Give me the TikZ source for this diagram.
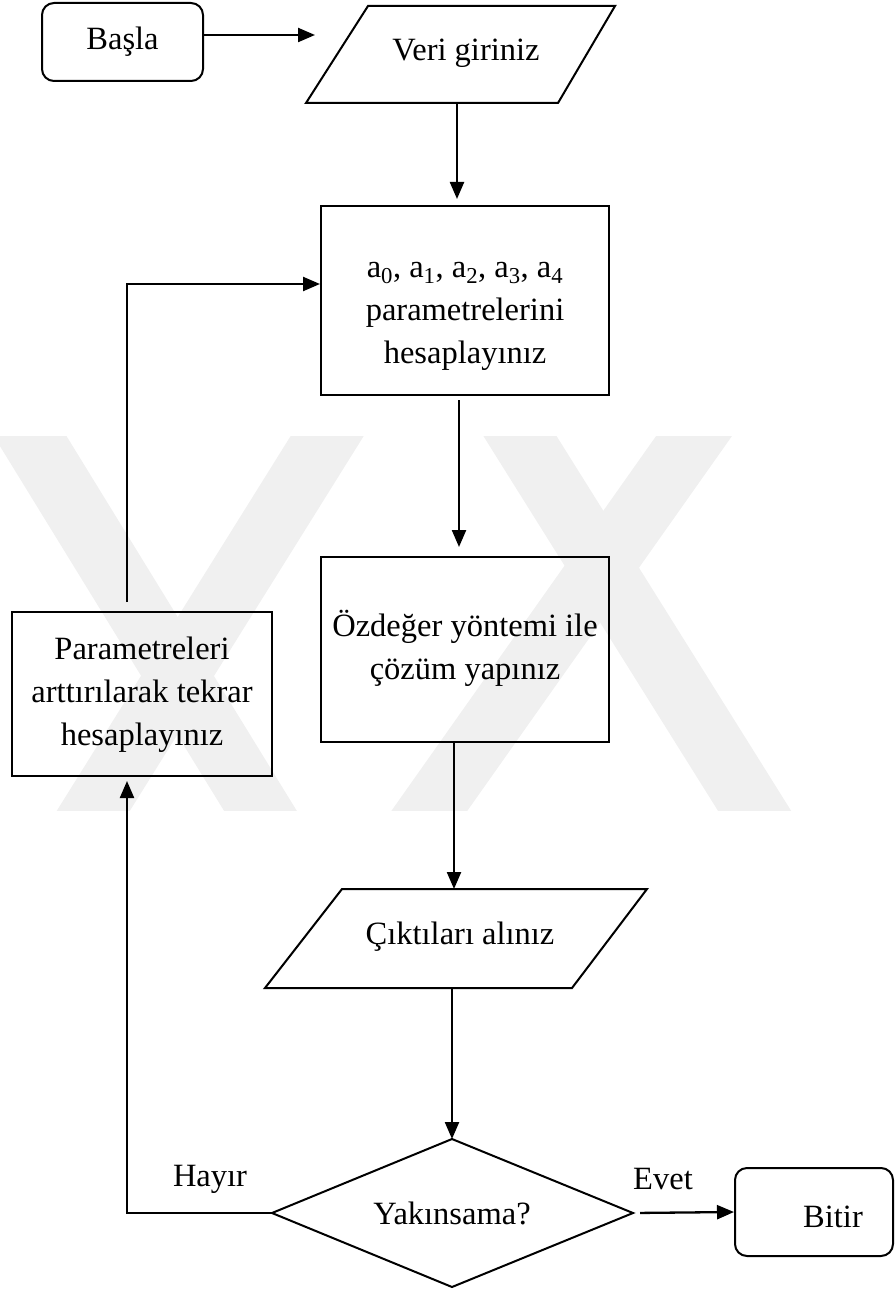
\documentclass[tikz,border=0pt]{standalone}
\usepackage{fontspec}
\setmainfont{Liberation Serif}
\usetikzlibrary{arrows.meta}
\begin{document}
\begin{tikzpicture}[x=1pt,y=-1pt,
  every node/.style={font=\fontsize{32.5}{43}\selectfont, inner sep=0pt},
  fbox/.style={draw, line width=2pt, inner sep=0pt},
  rbox/.style={draw, line width=2pt, inner sep=0pt, rounded corners=12pt},
  outline/.style={draw, line width=2pt, line join=miter},
  arr/.style={line width=2.3pt, -{Triangle[length=17pt,width=14pt]}},
  wm/.style={black!6, line width=62pt}]
\useasboundingbox (0,0) rectangle (895,1289);
% watermark
\begin{scope}
\clip (0,436) rectangle (895,810);
\draw[wm] (-16,361) -- (306,885);
\draw[wm] (374,361) -- (47,885);
\draw[wm] (747,361) -- (377,885);
\draw[wm] (473,361) -- (801,885);
\end{scope}
% Basla
\node[rbox, minimum width=161pt, minimum height=78pt] (basla) at (122.5,42) {Başla};
% Veri giriniz
\coordinate (vtl) at (368,6);
\coordinate (vtr) at (615,6);
\coordinate (vbr) at (558,103);
\coordinate (vbl) at (306,103);
\draw[outline] (vtl) -- (vtr) -- (vbr) -- (vbl) -- cycle;
\node (veri) at (466,53) {Veri giriniz};
\coordinate (veriin) at (315,35);
\coordinate (veribot) at (457,103);
% a0 box
\node[fbox, minimum width=288pt, minimum height=189pt] (a0) at (465,300.5) {};
\node[align=center] (a0txt) at (465,316) {a\textsubscript{0}, a\textsubscript{1}, a\textsubscript{2}, a\textsubscript{3}, a\textsubscript{4}\\parametrelerini\\hesaplayınız};
% Ozdeger box
\node[fbox, minimum width=288pt, minimum height=185pt] (ozd) at (465,649.5) {};
\node[align=center] (ozdtxt) at (465,648) {Özdeğer yöntemi ile\\çözüm yapınız};
% left box
\node[fbox, minimum width=260pt, minimum height=164pt] (param) at (142,694) {};
\node[align=center] (paramtxt) at (142,695) {Parametreleri\\arttırılarak tekrar\\hesaplayınız};
% Ciktilari
\coordinate (ctl) at (342,889);
\coordinate (ctr) at (647,889);
\coordinate (cbr) at (572,988);
\coordinate (cbl) at (265,988);
\draw[outline] (ctl) -- (ctr) -- (cbr) -- (cbl) -- cycle;
\node (cikti) at (460,937) {Çıktıları alınız};
\coordinate (ctop) at (454,889);
\coordinate (cbot) at (452,988);
% diamond
\coordinate (dt) at (452,1139);
\coordinate (dl) at (272,1213);
\coordinate (dr) at (633,1213);
\coordinate (db) at (452,1287);
\draw[outline] (dt) -- (dr) -- (db) -- (dl) -- cycle;
\node (yak) at (452,1213) {Yakınsama?};
\node (hayir) at (210,1179) {Hayır};
\node (evet) at (663,1179) {Evet};
% Bitir
\node[rbox, minimum width=158pt, minimum height=88pt] (bitir) at (814,1212) {};
\node (bitirtxt) at (833,1217) {Bitir};
% connectors
\draw[arr] ([yshift=7pt]basla.east) -- (veriin);
\draw[arr, shorten >=6pt] (veribot) -- (veribot |- a0.north);
\draw[arr, shorten <=4pt, shorten >=9pt] ([xshift=-6pt]a0.south) -- ([xshift=-6pt]ozd.north);
\draw[arr] ([xshift=-11pt]ozd.south) -- (ctop);
\draw[arr] (cbot) -- (dt);
\draw[arr, shorten >=4pt] (dl) -| ([xshift=-15pt]param.south);
\draw[arr, shorten <=9pt] ([xshift=-15pt]param.north) |- ([yshift=16.5pt]a0.west);
\draw[arr, shorten <=7pt] (dr) -- (bitir.west);
\end{tikzpicture}
\end{document}
